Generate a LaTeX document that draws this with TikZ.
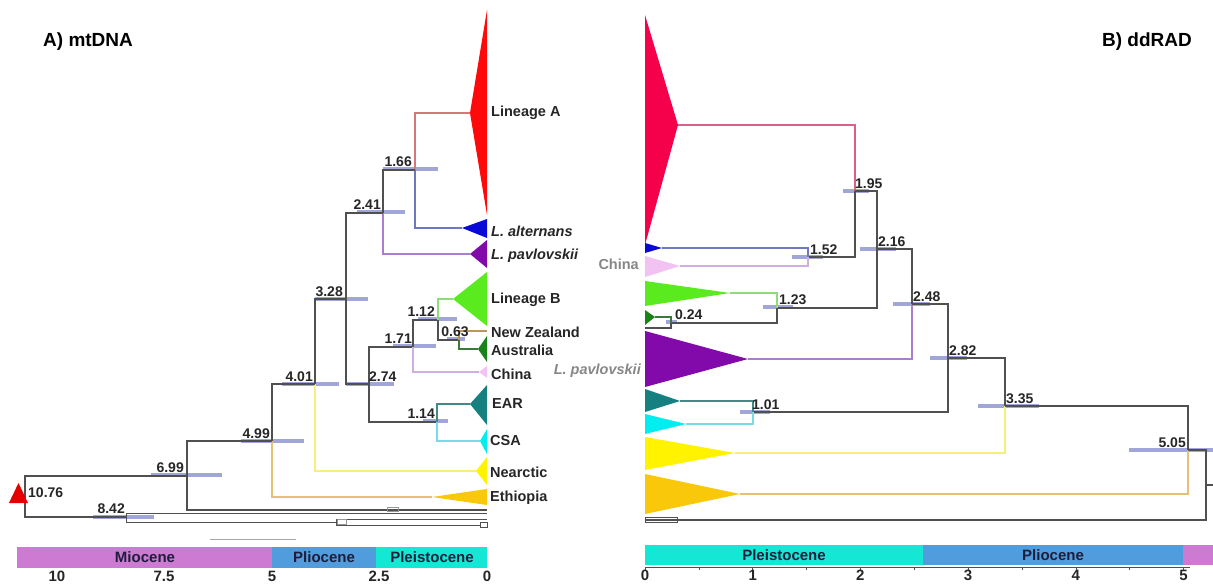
\documentclass[tikz,border=0pt]{standalone}
\usepackage{fontspec}
\setmainfont{Liberation Sans}
\definecolor{treegray}{RGB}{80,80,80}
\definecolor{barc}{RGB}{160,166,216}
\definecolor{cA}{RGB}{255,10,10}
\definecolor{cAr}{RGB}{245,0,75}
\definecolor{cAbr}{RGB}{210,120,120}
\definecolor{cArbr}{RGB}{220,95,135}
\definecolor{cAlt}{RGB}{10,10,215}
\definecolor{cAltbr}{RGB}{110,120,190}
\definecolor{cPav}{RGB}{130,10,170}
\definecolor{cPavbr}{RGB}{172,125,205}
\definecolor{cB}{RGB}{90,235,30}
\definecolor{cBbr}{RGB}{140,220,120}
\definecolor{cNZbr}{RGB}{190,150,90}
\definecolor{cAus}{RGB}{25,130,25}
\definecolor{cAusbr}{RGB}{60,120,60}
\definecolor{cChi}{RGB}{242,195,242}
\definecolor{cChibr}{RGB}{205,175,228}
\definecolor{cEAR}{RGB}{22,128,128}
\definecolor{cEARbr}{RGB}{70,135,135}
\definecolor{cCSA}{RGB}{0,238,240}
\definecolor{cCSAbr}{RGB}{120,220,230}
\definecolor{cNea}{RGB}{255,243,0}
\definecolor{cNeabr}{RGB}{248,238,120}
\definecolor{cEth}{RGB}{250,200,10}
\definecolor{cEthbr}{RGB}{230,192,115}
\definecolor{mio}{RGB}{205,122,210}
\definecolor{plio}{RGB}{80,156,220}
\definecolor{pleis}{RGB}{20,232,212}
\definecolor{eratext}{RGB}{30,30,60}
\definecolor{graylab}{RGB}{135,135,135}
\begin{document}
\begin{tikzpicture}[x=1pt,y=-1pt,
  tl/.style={draw=treegray,line width=1.2pt},
  hpd/.style={line width=4.5pt,draw=barc},
  age/.style={font=\fontsize{14}{16}\selectfont\bfseries,inner sep=1pt,text=black!85},
  tip/.style={font=\fontsize{14.5}{16}\selectfont\bfseries,inner sep=1pt,anchor=west,text=black!85},
  era/.style={font=\fontsize{15}{17}\selectfont\bfseries,text=eratext,inner sep=0pt},
  axl/.style={font=\fontsize{15}{17}\selectfont\bfseries,inner sep=0pt,anchor=north,text=black!85},
  ttl/.style={font=\fontsize{19}{21}\selectfont\bfseries,inner sep=0pt}]
\useasboundingbox (0,0) rectangle (1213,588);
\fill[white] (0,0) rectangle (1213,588);

% ---------------- titles
\node[ttl,anchor=west] (titleA) at (43,42) {A) mtDNA};
\node[ttl,anchor=east] (titleB) at (1192,42) {B) ddRAD};

% ================= LEFT TREE (mtDNA)
\coordinate (tA) at (470,113);
\coordinate (tAlt) at (462,228);
\coordinate (tPav) at (470,254);
\coordinate (tB) at (453,299);
\coordinate (tNZ) at (487,331);
\coordinate (tAus) at (478,349);
\coordinate (tChi) at (479,372);
\coordinate (tEAR) at (470,404);
\coordinate (tCSA) at (480,441);
\coordinate (tNea) at (476,471);
\coordinate (tEth) at (432,497);
\coordinate (o1) at (487,510);
\coordinate (o2) at (487,513);
\coordinate (o3) at (487,519);
\coordinate (o4) at (481,525);
\coordinate (L1076) at (25,496);
\coordinate (L699) at (187,476);
\coordinate (L842) at (126,517);
\coordinate (L33) at (336,522);
\coordinate (L499) at (272,441);
\coordinate (L401) at (315,384);
\coordinate (L328) at (346,299);
\coordinate (L274) at (369,384);
\coordinate (L241) at (383,213);
\coordinate (L166) at (415,170);
\coordinate (L171) at (413,347);
\coordinate (L112) at (438,320);
\coordinate (L063) at (459,340);
\coordinate (L114) at (437,422);

% HPD bars
\draw[hpd] (383,169) -- (438,169);
\draw[hpd] (357,212) -- (405,212);
\draw[hpd] (315,299) -- (368,299);
\draw[hpd] (418,319) -- (457,319);
\draw[hpd] (447,339) -- (465,339);
\draw[hpd] (393,346) -- (436,346);
\draw[hpd] (346,384) -- (394,384);
\draw[hpd] (282,384) -- (339,384);
\draw[hpd] (423,421) -- (448,421);
\draw[hpd] (241,441) -- (304,441);
\draw[hpd] (151,475) -- (222,475);
\draw[hpd] (93,517) -- (154,517);

% branches
\draw[tl,draw=cAbr] (L166) |- (tA);
\draw[tl,draw=cAltbr] (L166) |- (tAlt);
\draw[tl] (L241) |- (L166);
\draw[tl,draw=cPavbr] (L241) |- (tPav);
\draw[tl] (L328) |- (L241);
\draw[tl] (L328) |- (L274);
\draw[tl] (L401) |- (L328);
\draw[tl,draw=cNeabr] (L401) |- (tNea);
\draw[tl] (L499) |- (L401);
\draw[tl,draw=cEthbr] (L499) |- (tEth);
\draw[tl] (L699) |- (L499);
\draw[tl] (L699) |- (o1);
\draw[tl] (L1076) |- (L699);
\draw[tl] (L1076) |- (L842);
\draw[tl,line width=0.9pt] (L842) |- (o2);
\draw[tl,line width=0.9pt] (L842) |- (L33);
\draw[tl,line width=0.9pt] (L33) |- (o3);
\draw[tl,line width=0.9pt] (L33) |- (o4);
\draw[tl] (L274) |- (L171);
\draw[tl] (L274) |- (L114);
\draw[tl] (L171) |- (L112);
\draw[tl,draw=cChibr] (L171) |- (tChi);
\draw[tl,draw=cBbr] (L112) |- (tB);
\draw[tl] (L112) |- (L063);
\draw[tl,draw=cNZbr] (L063) |- (tNZ);
\draw[tl,draw=cAusbr] (L063) |- (tAus);
\draw[tl,draw=cEARbr] (L114) |- (tEAR);
\draw[tl,draw=cCSAbr] (L114) |- (tCSA);
\draw[treegray!60,line width=0.6pt] (387,507.5) rectangle (398,511.5);
\draw[treegray!60,line width=0.6pt] (337,519.5) rectangle (346,524.5);
\draw[treegray,line width=0.8pt] (480,522.5) rectangle (487,527);

% collapsed clades
\fill[cA] (tA) -- (487,10) -- (487,215) -- cycle;
\fill[cAlt] (tAlt) -- (487,219) -- (487,238) -- cycle;
\fill[cPav] (tPav) -- (487,240) -- (487,268) -- cycle;
\fill[cB] (tB) -- (487,272) -- (487,326) -- cycle;
\fill[cAus] (tAus) -- (487,336) -- (487,362) -- cycle;
\fill[cChi] (tChi) -- (487,366) -- (487,378) -- cycle;
\fill[cEAR] (tEAR) -- (487,385) -- (487,425) -- cycle;
\fill[cCSA] (tCSA) -- (487,429) -- (487,454) -- cycle;
\fill[cNea] (tNea) -- (487,457) -- (487,485) -- cycle;
\fill[cEth] (tEth) -- (487,489) -- (487,505) -- cycle;
\fill[red!90!black] (9,503) -- (28,503) -- (18.5,483) -- cycle;

% tip labels
\node[tip] (lA) at (490,113) {Lineage A};
\node[tip] (lAlt) at (490,231) {\itshape L. alternans};
\node[tip] (lPav) at (490,256) {\itshape L. pavlovskii};
\node[tip] (lB) at (490,300) {Lineage B};
\node[tip] (lNZ) at (490,332) {New Zealand};
\node[tip] (lAus) at (490,350) {Australia};
\node[tip] (lChi) at (490,374) {China};
\node[tip] (lEAR) at (491,404) {EAR};
\node[tip] (lCSA) at (489,441) {CSA};
\node[tip] (lNea) at (489,472) {Nearctic};
\node[tip] (lEth) at (489,498) {Ethiopia};

% age labels
\node[age,anchor=south east] (a166) at (413,168) {1.66};
\node[age,anchor=south east] (a241) at (382,211) {2.41};
\node[age,anchor=south east] (a328) at (344,298) {3.28};
\node[age,anchor=south east] (a112) at (436,318) {1.12};
\node[age,anchor=south] (a063) at (455,338) {0.63};
\node[age,anchor=south east] (a171) at (413,345) {1.71};
\node[age,anchor=south west] (a274) at (368,383) {2.74};
\node[age,anchor=south east] (a401) at (314,383) {4.01};
\node[age,anchor=south east] (a114) at (436,420) {1.14};
\node[age,anchor=south east] (a499) at (271,440) {4.99};
\node[age,anchor=south east] (a699) at (185,474) {6.99};
\node[age,anchor=south east] (a842) at (126,515) {8.42};
\node[age,anchor=west] (a1076) at (27,493) {10.76};

\draw[gray!70,line width=0.8pt] (210,539) -- (296,539);

% epoch bar left
\fill[mio] (17,547) rectangle (272,568);
\fill[plio] (272,547) rectangle (376,568);
\fill[pleis] (376,547) rectangle (487,568);
\node[era] (eMioL) at (145,557.5) {Miocene};
\node[era] (ePlioL) at (324,557.5) {Pliocene};
\node[era] (ePleisL) at (432,557.5) {Pleistocene};
\node[axl] (x10) at (57,571) {10};
\node[axl] (x75) at (164,571) {7.5};
\node[axl] (x5) at (272,571) {5};
\node[axl] (x25) at (379,571) {2.5};
\node[axl] (x0) at (487,571) {0};

% ================= RIGHT TREE (ddRAD)
\coordinate (uA) at (678,125);
\coordinate (uAlt) at (662,248);
\coordinate (uChi) at (680,266);
\coordinate (uB) at (730,293);
\coordinate (uAus) at (655,317);
\coordinate (uAus2) at (645,328);
\coordinate (uPav) at (748,359);
\coordinate (uEAR) at (680,401);
\coordinate (uCSA) at (686,424);
\coordinate (uNea) at (735,453);
\coordinate (uEth) at (740,494);
\coordinate (uOut) at (645,520);
\coordinate (R195) at (855,191);
\coordinate (R152) at (808,257);
\coordinate (R216) at (877,249);
\coordinate (R123) at (777,308);
\coordinate (R024) at (671,323);
\coordinate (R248) at (912,304);
\coordinate (R282) at (948,358);
\coordinate (R101) at (753,412);
\coordinate (R335) at (1005,406);
\coordinate (R505) at (1188,450);
\coordinate (Rroot) at (1206,485);

\draw[hpd] (843,191) -- (869,191);
\draw[hpd] (792,257) -- (823,257);
\draw[hpd] (860,249) -- (896,249);
\draw[hpd] (763,307) -- (793,307);
\draw[hpd] (666,322) -- (677,322);
\draw[hpd] (893,304) -- (930,304);
\draw[hpd] (930,358) -- (967,358);
\draw[hpd] (740,412) -- (770,412);
\draw[hpd] (978,406) -- (1039,406);
\draw[hpd] (1129,450) -- (1213,450);

\draw[tl,draw=cArbr] (R195) |- (uA);
\draw[tl] (R195) |- (R152);
\draw[tl,draw=cAltbr] (R152) |- (uAlt);
\draw[tl,draw=cChibr] (R152) |- (uChi);
\draw[tl] (R216) |- (R195);
\draw[tl] (R216) |- (R123);
\draw[tl,draw=cBbr] (R123) |- (uB);
\draw[tl] (R123) |- (R024);
\draw[tl,draw=cAusbr] (R024) |- (uAus);
\draw[tl] (R024) |- (uAus2);
\draw[tl] (R248) |- (R216);
\draw[tl,draw=cPavbr] (R248) |- (uPav);
\draw[tl] (R282) |- (R248);
\draw[tl] (R282) |- (R101);
\draw[tl,draw=cEARbr] (R101) |- (uEAR);
\draw[tl,draw=cCSAbr] (R101) |- (uCSA);
\draw[tl] (R335) |- (R282);
\draw[tl,draw=cNeabr] (R335) |- (uNea);
\draw[tl] (R505) |- (R335);
\draw[tl,draw=cEthbr] (R505) |- (uEth);
\draw[tl] (Rroot) |- (R505);
\draw[tl] (Rroot) |- (uOut);
\draw[tl] (Rroot) -- ++(7,0);
\draw[treegray,line width=0.8pt] (645,517) rectangle (677,522);

\fill[cAr] (uA) -- (645,15) -- (645,245) -- cycle;
\fill[cAlt] (uAlt) -- (645,243) -- (645,253) -- cycle;
\fill[cChi] (uChi) -- (645,256) -- (645,277) -- cycle;
\fill[cB] (uB) -- (645,281) -- (645,306) -- cycle;
\fill[cAus] (uAus) -- (645,310) -- (645,325) -- cycle;
\fill[cPav] (uPav) -- (645,331) -- (645,387) -- cycle;
\fill[cEAR] (uEAR) -- (645,389) -- (645,412) -- cycle;
\fill[cCSA] (uCSA) -- (645,414) -- (645,434) -- cycle;
\fill[cNea] (uNea) -- (645,437) -- (645,470) -- cycle;
\fill[cEth] (uEth) -- (645,474) -- (645,514) -- cycle;

\node[tip,anchor=east,text=graylab] (gChi) at (640,264) {China};
\node[tip,anchor=east,text=graylab] (gPav) at (642,371) {\itshape L. pavlovskii};

\node[age,anchor=south west] (b195) at (854,190) {1.95};
\node[age,anchor=south west] (b152) at (809,256) {1.52};
\node[age,anchor=south west] (b216) at (877,248) {2.16};
\node[age,anchor=south west] (b123) at (778,306) {1.23};
\node[age,anchor=south west] (b024) at (674,321) {0.24};
\node[age,anchor=south west] (b248) at (912,303) {2.48};
\node[age,anchor=south west] (b282) at (948,357) {2.82};
\node[age,anchor=south west] (b101) at (751,411) {1.01};
\node[age,anchor=south west] (b335) at (1005,405) {3.35};
\node[age,anchor=south east] (b505) at (1187,449) {5.05};

\fill[pleis] (645,545) rectangle (923,565);
\fill[plio] (923,545) rectangle (1183,565);
\fill[mio] (1183,545) rectangle (1213,565);
\node[era] (ePleisR) at (784,555) {Pleistocene};
\node[era] (ePlioR) at (1053,555) {Pliocene};
\draw[treegray,line width=0.8pt] (645,567) -- (1190,567);
\foreach \t in {0,0.5,...,5}{\draw[treegray,line width=0.6pt] (645+107.7*\t,567) -- ++(0,2.5);}
\node[axl] (y0) at (645,570) {0};
\node[axl] (y1) at (752.7,570) {1};
\node[axl] (y2) at (860.4,570) {2};
\node[axl] (y3) at (968.1,570) {3};
\node[axl] (y4) at (1075.8,570) {4};
\node[axl] (y5) at (1183.5,570) {5};
\end{tikzpicture}
\end{document}
